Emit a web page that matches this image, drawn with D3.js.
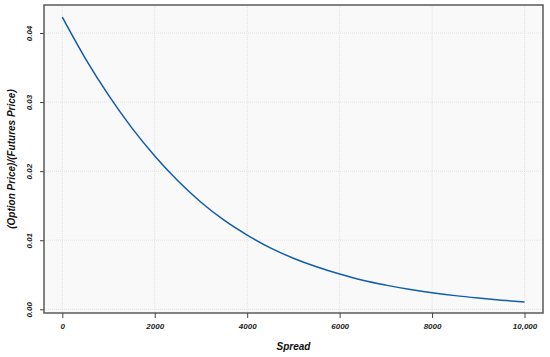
<!DOCTYPE html>
<html>
<head>
<meta charset="utf-8">
<script src="https://cdn.jsdelivr.net/npm/d3@7"></script>
<style>
  body { margin: 0; background: #fff; }
  svg text { font-family: "Liberation Sans", Arial, sans-serif; }
  .tick text { font-size: 8px; font-style: italic; font-weight: bold; fill: #222; }
  .axis path { display: none; }
  .axis line { stroke: #444; }
</style>
</head>
<body>
<div id="chart"></div>
<script>
// spread vs. normalised option price
var spread = [0, 500, 1000, 1500, 2000, 2500, 3000, 3500, 4000, 4500, 5000,
              5500, 6000, 6500, 7000, 7500, 8000, 8500, 9000, 9500, 10000];
var ratio = [0.0423, 0.0363, 0.0310, 0.0263, 0.0222, 0.0186, 0.0155, 0.0129, 0.01075, 0.0089, 0.0074,
             0.00615, 0.0051, 0.0042, 0.0035, 0.0029, 0.0024, 0.00198, 0.00163, 0.00132, 0.00106];

var xTicks = [0, 2000, 4000, 6000, 8000, 10000];
var xTickLabels = ["0", "2000", "4000", "6000", "8000", "10,000"];
var yTicks = [0, 0.01, 0.02, 0.03, 0.04];
var yTickLabels = ["0.00", "0.01", "0.02", "0.03", "0.04"];

var W = 550, H = 357;
var panel = {left: 44, top: 5, right: 543, bottom: 313};

var svg = d3.select("#chart").append("svg")
    .attr("width", W)
    .attr("height", H);

var x = d3.scaleLinear()
    .domain([0, 10000])
    .range([62.3, 524.5]);

var y = d3.scaleLinear()
    .domain([0, 0.04])
    .range([309.3, 33]);

// panel background
svg.append("rect")
  .attr("x", panel.left)
  .attr("y", panel.top)
  .attr("width", panel.right - panel.left)
  .attr("height", panel.bottom - panel.top)
  .style("fill", "#f9f9f9");

// dotted grid
svg.selectAll(".xgrid")
  .data(xTicks)
  .enter().append("line")
  .attr("class", "xgrid")
  .attr("x1", function(d) { return x(d); })
  .attr("x2", function(d) { return x(d); })
  .attr("y1", panel.top)
  .attr("y2", panel.bottom)
  .style("stroke", "#e2e2e2")
  .style("stroke-dasharray", "1,1");

svg.selectAll(".ygrid")
  .data(yTicks)
  .enter().append("line")
  .attr("class", "ygrid")
  .attr("x1", panel.left)
  .attr("x2", panel.right)
  .attr("y1", function(d) { return y(d); })
  .attr("y2", function(d) { return y(d); })
  .style("stroke", "#e2e2e2")
  .style("stroke-dasharray", "1,1");

// the curve
var line = d3.line()
  .x(function(d, i) { return x(spread[i]); })
  .y(function(d) { return y(d); })
  .curve(d3.curveMonotoneX);

svg.append("path")
  .datum(ratio)
  .attr("d", line)
  .style("fill", "none")
  .style("stroke", "#0f5cb0")
  .style("stroke-width", 1.5);

// panel frame
svg.append("rect")
  .attr("x", panel.left)
  .attr("y", panel.top)
  .attr("width", panel.right - panel.left)
  .attr("height", panel.bottom - panel.top)
  .style("fill", "none")
  .style("stroke", "#5a5a5a")
  .style("stroke-width", 1.5);

// axes
var xAxis = d3.axisBottom(x)
  .tickValues(xTicks)
  .tickSize(5)
  .tickPadding(5)
  .tickFormat(function(d, i) { return xTickLabels[i]; });

svg.append("g")
  .attr("class", "x axis")
  .attr("transform", "translate(0," + panel.bottom + ")")
  .call(xAxis);

var yAxis = d3.axisLeft(y)
  .tickValues(yTicks)
  .tickSize(4)
  .tickFormat(function(d, i) { return yTickLabels[i]; });

var gy = svg.append("g")
  .attr("class", "y axis")
  .attr("transform", "translate(" + panel.left + ",0)")
  .call(yAxis);

gy.selectAll(".tick text")
  .attr("x", 0)
  .attr("dy", 0)
  .attr("transform", "translate(-12,0) rotate(-90)")
  .style("text-anchor", "middle");

// axis titles
svg.append("text")
  .attr("x", (panel.left + panel.right) / 2)
  .attr("y", 350)
  .attr("text-anchor", "middle")
  .style("font-size", "10px")
  .style("font-weight", "bold")
  .style("font-style", "italic")
  .style("fill", "#111")
  .text("Spread");

svg.append("text")
  .attr("transform", "translate(15," + ((panel.top + panel.bottom) / 2) + ") rotate(-90)")
  .attr("text-anchor", "middle")
  .style("font-size", "10px")
  .style("font-weight", "bold")
  .style("font-style", "italic")
  .style("fill", "#111")
  .text("(Option Price)/(Futures Price)");
</script>
</body>
</html>
